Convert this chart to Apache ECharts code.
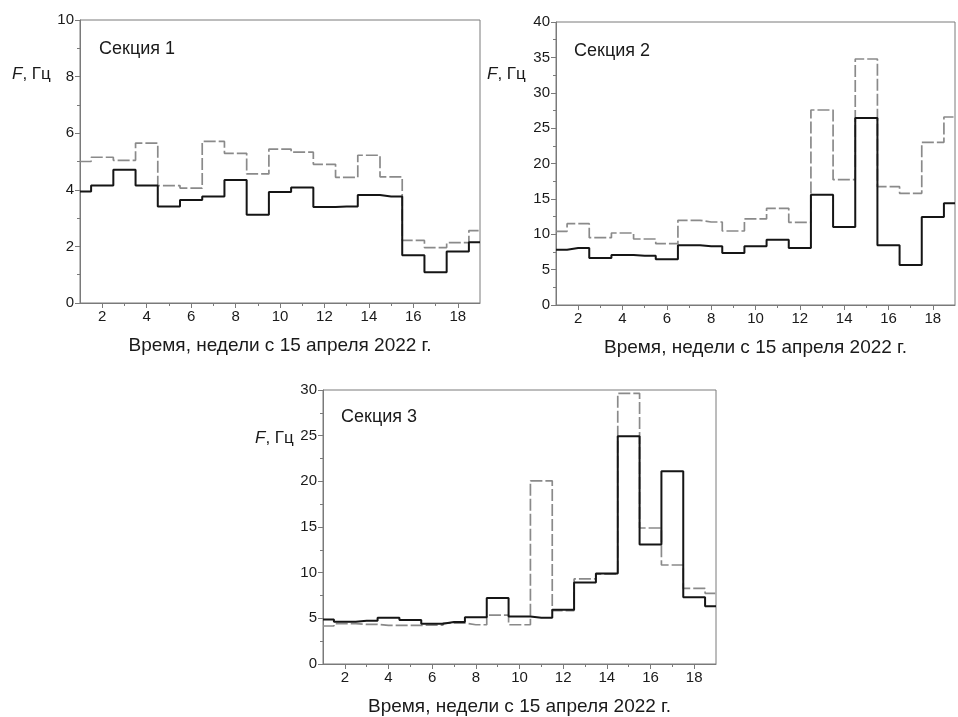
<!DOCTYPE html>
<html>
<head>
<meta charset="utf-8">
<script src="https://cdn.jsdelivr.net/npm/echarts@6/dist/echarts.min.js"></script>
<style>
html,body{margin:0;padding:0;background:#fff;}
#c{width:958px;height:717px;}
</style>
</head>
<body>
<div id="c"></div>
<script>
var weeks = [1,2,3,4,5,6,7,8,9,10,11,12,13,14,15,16,17,18,19];
var xTickLabels = [2,4,6,8,10,12,14,16,18];
var xMinorTicks = [3,5,7,9,11,13,15,17];

var sec1Solid  = [3.94,4.15,4.71,4.15,3.41,3.64,3.76,4.35,3.12,3.92,4.08,3.39,3.41,3.82,3.76,1.69,1.09,1.82,2.15];
var sec1Dashed = [5.00,5.15,5.04,5.65,4.15,4.06,5.71,5.29,4.56,5.44,5.33,4.90,4.44,5.22,4.46,2.21,1.96,2.13,2.56];

var sec2Solid  = [7.82,8.06,6.64,7.07,6.97,6.45,8.43,8.29,7.35,8.29,9.23,8.06,15.6,11.02,26.43,8.43,5.65,12.44,14.37];
var sec2Dashed = [10.41,11.5,9.52,10.18,9.33,8.67,11.97,11.73,10.46,12.16,13.66,11.68,27.56,17.72,34.77,16.73,15.78,22.99,26.57];

var sec3Solid  = [4.88,4.63,4.73,5.06,4.81,4.41,4.59,5.13,7.23,5.2,5.06,5.93,8.93,9.9,24.94,13.08,21.1,7.3,6.33];
var sec3Dashed = [4.16,4.41,4.34,4.23,4.23,4.26,4.48,4.3,5.35,4.3,20.06,5.85,9.32,9.83,29.64,14.89,10.84,8.28,7.74];

var titles = ['Секция 1','Секция 2','Секция 3'];
var xName = 'Время, недели с 15 апреля 2022 г.';
var yMax = [10,40,30];
var yStep = [2,5,5];

var FONT = '"Liberation Sans", Arial, sans-serif';
var AX = '#7a7a7a';
var TXT = '#1a1a1a';

var grids = [
  {left:80, top:20, width:400, height:283},
  {left:556, top:22, width:399, height:283},
  {left:323, top:390, width:393, height:277}
];

function pairs(arr){ return weeks.map(function(w,i){ return [w, arr[i]]; }); }

var xAxes = [], yAxes = [], series = [];
var solids = [sec1Solid, sec2Solid, sec3Solid];
var dashes = [sec1Dashed, sec2Dashed, sec3Dashed];

grids.forEach(function(g, i){
  g.show = true; g.borderColor = AX; g.borderWidth = 1; g.backgroundColor = '#fff';
  xAxes.push({
    gridIndex:i, type:'value', min:1, max:19, interval:1,
    name:xName, nameLocation:'middle', nameGap:33,
    nameTextStyle:{fontFamily:FONT, fontSize:19, color:TXT},
    axisLine:{show:true, lineStyle:{color:AX, width:1}},
    axisTick:{show:true, length:5, lineStyle:{color:AX}, customValues:xTickLabels},
    axisLabel:{show:true, fontFamily:FONT, fontSize:15, color:TXT, margin:6, customValues:xTickLabels},
    splitLine:{show:false}
  });
  xAxes.push({
    gridIndex:i, type:'value', min:1, max:19, interval:1, position:'bottom',
    axisLine:{show:false},
    axisTick:{show:true, length:3, lineStyle:{color:AX}, customValues:xMinorTicks},
    axisLabel:{show:false},
    splitLine:{show:false}
  });
  yAxes.push({
    gridIndex:i, type:'value', min:0, max:yMax[i], interval:yStep[i],
    axisLine:{show:true, lineStyle:{color:AX, width:1}},
    axisTick:{show:true, length:5, lineStyle:{color:AX}},
    minorTick:{show:true, splitNumber:2, length:3, lineStyle:{color:AX}},
    axisLabel:{fontFamily:FONT, fontSize:15, color:TXT, margin:6},
    splitLine:{show:false}
  });
  series.push({
    type:'line', xAxisIndex:i*2, yAxisIndex:i, step:'middle', symbol:'none',
    data:pairs(dashes[i]), z:2,
    lineStyle:{color:'#8a8a8a', width:1.7, type:[12,3]}
  });
  series.push({
    type:'line', xAxisIndex:i*2, yAxisIndex:i, step:'middle', symbol:'none',
    data:pairs(solids[i]), z:3,
    lineStyle:{color:'#151515', width:2}
  });
});

var titlePos = [[99,50],[574,52],[341,418]];
var yLabPos = [[12,76],[487,76],[255,440]];
var graphics = [];
titles.forEach(function(t,i){
  graphics.push({type:'text', left:titlePos[i][0], top:titlePos[i][1]-10, z:10,
    style:{text:t, font:'18px '+FONT, fill:TXT}});
  graphics.push({type:'text', left:yLabPos[i][0], top:yLabPos[i][1]-10, z:10,
    style:{text:'{i|F}, Гц', font:'17px '+FONT, fill:TXT,
      rich:{i:{fontStyle:'italic', fontFamily:FONT, fontSize:17, fill:TXT}}}});
});

var chart = echarts.init(document.getElementById('c'));
chart.setOption({
  animation:false,
  backgroundColor:'#fff',
  grid:grids,
  xAxis:xAxes,
  yAxis:yAxes,
  series:series,
  graphic:graphics
});
</script>
</body>
</html>
